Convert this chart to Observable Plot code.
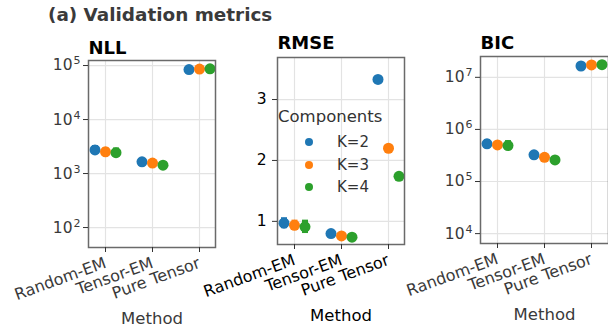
<!DOCTYPE html>
<html>
<head>
<meta charset="utf-8">
<script src="https://cdn.jsdelivr.net/npm/d3@7"></script>
<script src="https://cdn.jsdelivr.net/npm/@observablehq/plot@0.6"></script>
<style>
  html, body { margin: 0; padding: 0; background: #fff; }
  #fig { position: relative; width: 608px; height: 328px; overflow: hidden; font-family: "DejaVu Sans", sans-serif; }
  #fig svg { position: absolute; top: 0; overflow: visible; background: none; }
  #title { position: absolute; left: 48px; top: 4px; font-size: 18.4px; font-weight: bold; color: #3a3a3a; white-space: nowrap; }
  #legend { position: absolute; left: 274px; top: 104px; width: 110px; height: 96px; color: #333; }
  #legend .ttl { position: absolute; left: 4px; top: 3px; font-size: 16.5px; white-space: nowrap; }
  #legend .item { position: absolute; left: 0; height: 18px; width: 110px; font-size: 15px; }
  #legend .sw { position: absolute; left: 31px; top: 5px; width: 8px; height: 8px; border-radius: 50%; }
  #legend .lb { position: absolute; left: 63px; top: 0; line-height: 18px; white-space: nowrap; }
</style>
</head>
<body>
<div id="fig">
  <div id="title">(a) Validation metrics</div>
</div>
<script>
// Categories and series
const methods = ["Random-EM", "Tensor-EM", "Pure Tensor"];
const components = ["K=2", "K=3", "K=4"];
const colors = ["#1f77b4", "#ff7f0e", "#2ca02c"];

// Negative log-likelihood: one row per component, one column per method
const nllMean = [[2730, 1650, 84000], [2530, 1560, 86000], [2430, 1430, 87000]];
const nllLow  = [[2250, 1580, 82500], [2120, 1500, 84500], [1980, 1370, 85500]];
const nllHigh = [[3300, 1720, 85500], [3020, 1620, 87500], [2980, 1490, 88500]];

// Root mean squared error
const rmseMean = [[0.97, 0.80, 3.33], [0.935, 0.76, 2.20], [0.91, 0.74, 1.74]];
const rmseLow  = [[0.88, 0.77, 3.31], [0.85, 0.735, 2.18], [0.80, 0.715, 1.72]];
const rmseHigh = [[1.06, 0.83, 3.35], [1.02, 0.785, 2.22], [1.02, 0.765, 1.76]];

// Bayesian information criterion
const bicMean = [[530000, 325000, 16500000], [505000, 292000, 17300000], [490000, 260000, 17500000]];
const bicLow  = [[445000, 305000, 16100000], [440000, 275000, 16900000], [395000, 245000, 17100000]];
const bicHigh = [[635000, 345000, 16900000], [580000, 310000, 17700000], [610000, 275000, 17900000]];

// Axis ticks
const nllTicks = [1e2, 1e3, 1e4, 1e5];
const rmseTicks = [1, 2, 3];
const bicTicks = [1e4, 1e5, 1e6, 1e7];

// Log ticks are written as "10^n" and turned into a base with a raised exponent after rendering
const pow10 = v => "10^" + Math.round(Math.log10(v));

const DODGE = 10.5;

function raiseExponents(svg) {
  svg.querySelectorAll("text").forEach(t => {
    const m = /^10\^(\d+)$/.exec(t.textContent);
    if (!m) return;
    t.textContent = "";
    const base = document.createElementNS("http://www.w3.org/2000/svg", "tspan");
    base.textContent = "10";
    const exp = document.createElementNS("http://www.w3.org/2000/svg", "tspan");
    exp.textContent = m[1];
    exp.setAttribute("font-size", "11px");
    exp.setAttribute("dy", "-6");
    exp.setAttribute("dx", "1");
    t.append(base, exp);
  });
}

function panel({title, mean, low, high, y, ticks, format, left, width, margin, ink, tickPadding}) {
  const rows = [];
  components.forEach((k, j) => methods.forEach((m, i) => {
    rows.push({method: m, k, mean: mean[j][i], lo: low[j][i], hi: high[j][i]});
  }));
  const marks = [
    Plot.gridX({stroke: "#e3e3e3", strokeOpacity: 1, strokeWidth: 1.2}),
    Plot.gridY(ticks, {stroke: "#e3e3e3", strokeOpacity: 1, strokeWidth: 1.2})
  ];
  components.forEach((k, j) => {
    const d = rows.filter(r => r.k === k);
    const dx = (j - 1) * DODGE;
    marks.push(Plot.ruleX(d, {x: "method", y1: "lo", y2: "hi", stroke: colors[j], strokeWidth: 6, dx}));
    marks.push(Plot.dot(d, {x: "method", y: "mean", r: 5.5, fill: colors[j], stroke: "none", dx}));
  });
  marks.push(
    Plot.frame({stroke: "#6a6a6a", strokeWidth: 1.5}),
    Plot.axisY(ticks, {tickFormat: format, tickSize: 5, tickPadding, stroke: "#333", fill: ink, fontSize: 15.5, label: null}),
    Plot.axisX({tickRotate: -20, tickSize: 5, tickPadding: 10, stroke: "#333", fill: ink, fontSize: 16, label: null}),
    Plot.text([title], {text: d => d, frameAnchor: "top-left", dy: margin.titleDy, textAnchor: "start", lineAnchor: "middle", fontWeight: "bold", fontSize: 18, fill: "#000"}),
    Plot.text(["Method"], {text: d => d, frameAnchor: "bottom", dy: 71, lineAnchor: "middle", fontSize: 16.5, fill: ink})
  );
  const svg = Plot.plot({
    width, height: 328,
    marginLeft: margin.left, marginRight: margin.right, marginTop: margin.top, marginBottom: margin.bottom,
    style: {fontFamily: "DejaVu Sans, sans-serif", fontSize: "15px", background: "none", overflow: "visible"},
    x: {type: "point", domain: methods, padding: 0.335, axis: null},
    y: {...y, axis: null},
    marks
  });
  raiseExponents(svg);
  svg.style.left = left + "px";
  document.getElementById("fig").appendChild(svg);
}

panel({
  title: "NLL", mean: nllMean, low: nllLow, high: nllHigh,
  y: {type: "log", domain: [42.7, 123900]}, ticks: nllTicks, format: pow10,
  left: 0, width: 230, margin: {left: 88, right: 15, top: 60, bottom: 81, titleDy: -12},
  ink: "#3a3a3a", tickPadding: 3
});
panel({
  title: "RMSE", mean: rmseMean, low: rmseLow, high: rmseHigh,
  y: {type: "linear", domain: [0.62, 3.69]}, ticks: rmseTicks, format: d3.format("d"),
  left: 200, width: 220, margin: {left: 77, right: 16, top: 57, bottom: 84, titleDy: -14},
  ink: "#000", tickPadding: 6
});
panel({
  title: "BIC", mean: bicMean, low: bicLow, high: bicHigh,
  y: {type: "log", domain: [6460, 2.51e7]}, ticks: bicTicks, format: pow10,
  left: 400, width: 210, margin: {left: 80, right: 2, top: 56, bottom: 85, titleDy: -13},
  ink: "#3a3a3a", tickPadding: 3
});

// Legend for the component colours, drawn over the RMSE panel
const legend = document.createElement("div");
legend.id = "legend";
legend.innerHTML = `<div class="ttl">Components</div>` + components.map((k, j) =>
  `<div class="item" style="top:${29 + j * 22.6}px"><span class="sw" style="background:${colors[j]}"></span><span class="lb">${k}</span></div>`
).join("");
document.getElementById("fig").appendChild(legend);
</script>
</body>
</html>
